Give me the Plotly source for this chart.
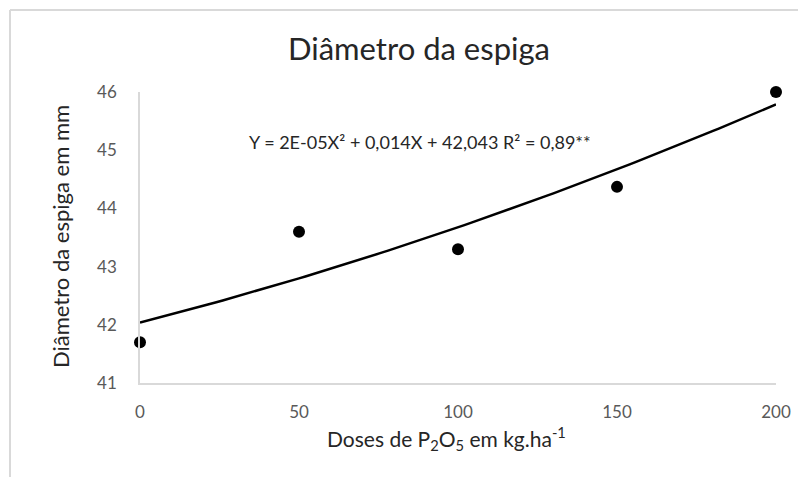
import numpy as np
import plotly.graph_objects as go

doses = [0, 50, 100, 150, 200]
diametro = [41.7, 43.6, 43.3, 44.37, 46.0]
x_ticks = [0, 50, 100, 150, 200]
y_ticks = [41, 42, 43, 44, 45, 46]
title_text = "Diâmetro da espiga"
y_title = "Diâmetro da espiga em mm"
x_title = "Doses de P<sub>2</sub>O<sub>5</sub> em kg.ha<sup>-1</sup>"
equation = "Y = 2E-05X² + 0,014X + 42,043 R² = 0,89**"

# quadratic trendline fitted to the data (as the spreadsheet did)
coef = np.polyfit(doses, diametro, 2)
xs = np.linspace(min(doses), max(doses), 101)
ys = np.polyval(coef, xs)

W, H = 806, 477
OFF = 8  # page body margin
# target plot area in page pixels: x 140..776, y 92..383
PL, PR, PT, PB = 140, 776, 92, 383
L, R, T, B = PL - OFF, W + OFF - PR, PT - OFF, H + OFF - PB
pw, ph = PR - PL, PB - PT


def px(xp):
    return (xp - PL) / pw


def py(yp):
    return (PB - yp) / ph


fig = go.Figure()
fig.add_trace(go.Scatter(x=xs, y=ys, mode="lines",
                         line=dict(color="black", width=2.5), hoverinfo="skip"))
fig.add_trace(go.Scatter(x=doses, y=diametro, mode="markers",
                         marker=dict(color="black", size=12), cliponaxis=False))

font = "Lato, 'Open Sans', sans-serif"
fig.update_layout(
    width=W, height=H,
    margin=dict(l=L, r=R, t=T, b=B),
    paper_bgcolor="white", plot_bgcolor="white",
    showlegend=False,
    font=dict(family=font, color="#595959", size=17),
    xaxis=dict(range=[0, 200], tickvals=x_ticks, showgrid=False, zeroline=False,
               showline=True, linecolor="#d9d9d9", linewidth=1.5,
               ticks="", ticklabelstandoff=13),
    yaxis=dict(range=[41, 46], tickvals=y_ticks, showgrid=False, zeroline=False,
               showline=True, linecolor="#d9d9d9", linewidth=1.5,
               ticks="", ticklabelstandoff=18),
    annotations=[
        dict(text=title_text, xref="paper", yref="paper", x=px(419), y=py(48),
             xanchor="center", yanchor="middle", showarrow=False,
             font=dict(size=31, color="#262626", family=font)),
        dict(text=x_title, xref="paper", yref="paper", x=px(446), y=py(438),
             xanchor="center", yanchor="middle", showarrow=False,
             font=dict(size=21, color="#262626", family=font)),
        dict(text=y_title, xref="paper", yref="paper", x=px(60), y=py(237),
             xanchor="center", yanchor="middle", showarrow=False, textangle=-90,
             font=dict(size=22, color="#262626", family=font)),
        dict(text=equation, xref="paper", yref="paper", x=px(420), y=py(142),
             xanchor="center", yanchor="middle", showarrow=False,
             font=dict(size=18, color="#262626", family=font)),
    ],
    shapes=[
        dict(type="line", xref="paper", yref="paper",
             x0=px(10), x1=px(W + 10), y0=py(10), y1=py(10),
             line=dict(color="#d9d9d9", width=2)),
        dict(type="line", xref="paper", yref="paper",
             x0=px(10), x1=px(10), y0=py(10), y1=py(H + 10),
             line=dict(color="#d9d9d9", width=2)),
    ],
)

fig.write_html("out.html")
